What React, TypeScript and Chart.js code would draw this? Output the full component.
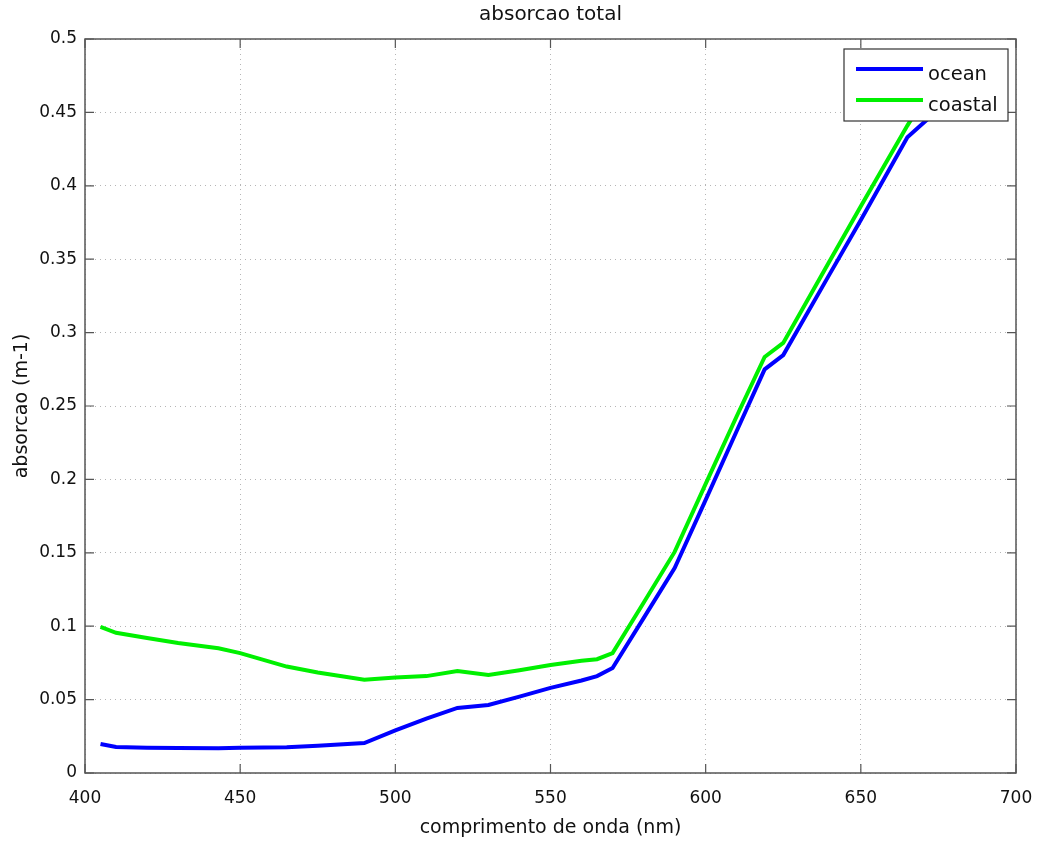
import React, { useEffect, useRef } from "react";
import { Chart, registerables } from "chart.js";

Chart.register(...registerables);

const TITLE = "absorcao total";
const X_LABEL = "comprimento de onda (nm)";
const Y_LABEL = "absorcao (m-1)";
const SERIES_NAMES = ["ocean", "coastal"];

const wavelengths = [405, 410, 420, 430, 443, 450, 465, 475, 490, 500, 510, 520, 530, 540, 550, 560, 565, 570, 580, 590, 600, 610, 619, 625, 640, 650, 665, 675];
const ocean = [0.0198, 0.0177, 0.0172, 0.017, 0.0168, 0.0172, 0.0175, 0.0185, 0.0204, 0.029, 0.037, 0.0443, 0.0463, 0.052, 0.058, 0.063, 0.066, 0.0715, 0.1055, 0.1396, 0.186, 0.233, 0.275, 0.2847, 0.34, 0.3767, 0.433, 0.452];
const coastal = [0.0995, 0.0955, 0.092, 0.0885, 0.085, 0.0817, 0.0725, 0.0685, 0.0635, 0.065, 0.066, 0.0695, 0.0668, 0.07, 0.0736, 0.0765, 0.0775, 0.0817, 0.116, 0.1506, 0.197, 0.243, 0.2834, 0.293, 0.349, 0.386, 0.441, 0.475];

const xTicks = [400, 450, 500, 550, 600, 650, 700];
const yTicks = [0, 0.05, 0.1, 0.15, 0.2, 0.25, 0.3, 0.35, 0.4, 0.45, 0.5];

const COLORS = ["#0000ff", "#00f000"];
const FONT = "'DejaVu Sans', sans-serif";

const decorPlugin = {
  id: "decor",
  afterDraw(chart: any) {
    const ctx = chart.ctx;
    const a = chart.chartArea;
    const xs = chart.scales.x;
    const ys = chart.scales.y;
    ctx.save();
    // box
    ctx.strokeStyle = "#555";
    ctx.lineWidth = 1.5;
    ctx.strokeRect(a.left, a.top, a.right - a.left, a.bottom - a.top);
    // inward ticks
    ctx.lineWidth = 1.2;
    const tl = 9;
    ctx.beginPath();
    xTicks.forEach((v) => {
      const px = xs.getPixelForValue(v);
      ctx.moveTo(px, a.bottom);
      ctx.lineTo(px, a.bottom - tl);
      ctx.moveTo(px, a.top);
      ctx.lineTo(px, a.top + tl);
    });
    yTicks.forEach((v) => {
      const py = ys.getPixelForValue(v);
      ctx.moveTo(a.left, py);
      ctx.lineTo(a.left + tl, py);
      ctx.moveTo(a.right, py);
      ctx.lineTo(a.right - tl, py);
    });
    ctx.stroke();

    // title and axis labels
    ctx.fillStyle = "#111";
    ctx.textAlign = "center";
    ctx.textBaseline = "middle";
    const cx = (a.left + a.right) / 2;
    ctx.font = `20px ${FONT}`;
    ctx.fillText(TITLE, cx, 15);
    ctx.font = `19px ${FONT}`;
    ctx.fillText(X_LABEL, cx, 828);
    ctx.save();
    ctx.translate(22, (a.top + a.bottom) / 2);
    ctx.rotate(-Math.PI / 2);
    ctx.fillText(Y_LABEL, 0, 0);
    ctx.restore();

    // legend
    const lx = 844, ly = 49, lw = 164, lh = 72;
    ctx.fillStyle = "#fff";
    ctx.fillRect(lx, ly, lw, lh);
    ctx.strokeStyle = "#333";
    ctx.lineWidth = 1.2;
    ctx.strokeRect(lx, ly, lw, lh);
    const rows = [69, 100];
    ctx.font = `19.5px ${FONT}`;
    ctx.textAlign = "left";
    SERIES_NAMES.forEach((name, i) => {
      ctx.strokeStyle = COLORS[i];
      ctx.lineWidth = 4;
      ctx.beginPath();
      ctx.moveTo(856, rows[i]);
      ctx.lineTo(923, rows[i]);
      ctx.stroke();
      ctx.fillStyle = "#111";
      ctx.fillText(name, 928, rows[i] + 6);
    });
    ctx.restore();
  },
};

export default function App() {
  const ref = useRef<HTMLCanvasElement>(null);
  useEffect(() => {
    const canvas = ref.current;
    if (!canvas) return;
    const series = [ocean, coastal];
    const chart = new Chart(canvas, {
      type: "line",
      data: {
        datasets: SERIES_NAMES.map((name, i) => ({
          label: name,
          data: wavelengths.map((w, j) => ({ x: w, y: series[i][j] })),
          borderColor: COLORS[i],
          backgroundColor: COLORS[i],
          borderWidth: 4,
          pointRadius: 0,
          tension: 0,
          fill: false,
        })),
      },
      options: {
        responsive: false,
        animation: false,
        layout: { padding: { left: 0, top: 39, right: 22, bottom: 0 } },
        plugins: {
          legend: { display: false },
          title: { display: false },
          tooltip: { enabled: false },
        },
        scales: {
          x: {
            type: "linear",
            min: 400,
            max: 700,
            afterFit: (s: any) => {
              s.height = 70;
              s.paddingLeft = 0;
              s.paddingRight = 0;
            },
            afterBuildTicks: (s: any) => {
              s.ticks = xTicks.map((v) => ({ value: v }));
            },
            ticks: {
              font: { family: FONT, size: 17 },
              color: "#111",
              padding: 15,
              maxRotation: 0,
              callback: (v: any) => String(v),
            },
            grid: { color: "#b5b5b5", lineWidth: 1, drawTicks: false },
            border: { display: false, dash: [1, 4] },
          },
          y: {
            type: "linear",
            min: 0,
            max: 0.5,
            afterFit: (s: any) => {
              s.width = 85;
              s.paddingTop = 0;
              s.paddingBottom = 0;
            },
            afterBuildTicks: (s: any) => {
              s.ticks = yTicks.map((v) => ({ value: v }));
            },
            ticks: {
              font: { family: FONT, size: 17 },
              color: "#111",
              padding: 8,
              callback: (v: any) => String(Number(Number(v).toFixed(2))),
            },
            grid: { color: "#b5b5b5", lineWidth: 1, drawTicks: false },
            border: { display: false, dash: [1, 4] },
          },
        },
      },
      plugins: [decorPlugin],
    });
    return () => chart.destroy();
  }, []);
  return (
    <div style={{ position: "absolute", left: 0, top: 0, width: 1038, height: 843, background: "#fff" }}>
      <canvas ref={ref} width={1038} height={843} style={{ display: "block" }} />
    </div>
  );
}
